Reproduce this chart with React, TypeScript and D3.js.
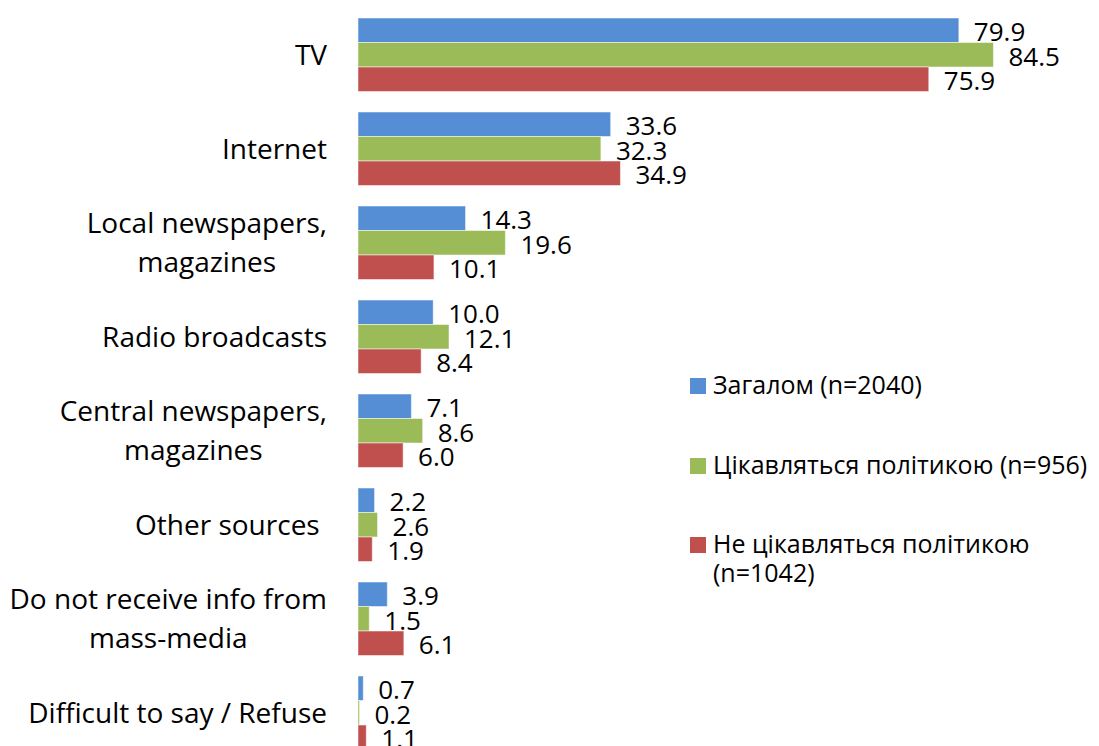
import React, { useEffect, useRef } from 'react'
import * as d3 from 'd3'

const categories = [
  'TV',
  'Internet',
  'Local newspapers,\nmagazines',
  'Radio broadcasts',
  'Central newspapers,\nmagazines',
  'Other sources ',
  'Do not receive info from\nmass-media',
  'Difficult to say / Refuse',
]
const seriesNames = ['Загалом (n=2040)', 'Цікавляться політикою (n=956)', 'Не цікавляться політикою\n(n=1042)']
const seriesColors = ['#558ED5', '#9BBB59', '#C0504D']
const overall = [79.9, 33.6, 14.3, 10.0, 7.1, 2.2, 3.9, 0.7]
const interested = [84.5, 32.3, 19.6, 12.1, 8.6, 2.6, 1.5, 0.2]
const notInterested = [75.9, 34.9, 10.1, 8.4, 6.0, 1.9, 6.1, 1.1]

const W = 1099, H = 746
const FONT = '"Open Sans", sans-serif'

function App() {
  const ref = useRef<SVGSVGElement>(null)

  useEffect(() => {
    const svg = d3.select(ref.current)
    svg.selectAll('*').remove()

    const values = [overall, interested, notInterested]

    const x = d3.scaleLinear().domain([0, 100]).range([358, 358 + 752])
    const y = d3.scaleBand<string>()
      .domain(categories)
      .range([7.75, 7.75 + 8 * 94])
      .paddingInner(0.218)
      .paddingOuter(0.109)
    const inner = d3.scaleBand<number>().domain([0, 1, 2]).range([0, y.bandwidth()])

    const groups = svg.selectAll('g.cat')
      .data(categories)
      .enter()
      .append('g')
      .attr('class', 'cat')
      .attr('transform', d => 'translate(0,' + y(d) + ')')

    groups.each(function (cat, ci) {
      const g = d3.select(this)
      values.forEach((vals, si) => {
        const v = vals[ci]
        g.append('rect')
          .attr('x', x(0))
          .attr('y', inner(si)!)
          .attr('width', x(v) - x(0))
          .attr('height', inner.bandwidth())
          .attr('fill', seriesColors[si])
          .attr('stroke', 'rgba(255,255,255,0.5)')
          .attr('stroke-width', 1)
        g.append('text')
          .attr('x', x(v) + 15)
          .attr('y', inner(si)! + inner.bandwidth() / 2 + 1.5)
          .attr('dy', '0.36em')
          .attr('font-family', FONT)
          .attr('font-size', 26)
          .attr('fill', '#000')
          .text(v.toFixed(1))
      })

      // category label: lines centred, block right-aligned at the axis
      const lines = cat.split('\n')
      const label = g.append('text')
        .attr('font-family', FONT)
        .attr('font-size', 28)
        .attr('fill', '#000')
        .attr('text-anchor', 'middle')
        .style('white-space', 'pre')
      const mid = y.bandwidth() / 2 + 10
      lines.forEach((ln, li) => {
        label.append('tspan')
          .attr('y', mid + (li - (lines.length - 1) / 2) * 39)
          .text(ln)
      })
      let maxW = 0
      label.selectAll<SVGTSpanElement, unknown>('tspan').each(function () {
        maxW = Math.max(maxW, this.getComputedTextLength())
      })
      label.selectAll('tspan').attr('x', 327 - maxW / 2)
    })

    // legend
    const legendTops = [378, 458, 537]
    seriesNames.forEach((name, si) => {
      const top = legendTops[si]
      svg.append('rect')
        .attr('x', 690)
        .attr('y', top)
        .attr('width', 16)
        .attr('height', 16)
        .attr('fill', seriesColors[si])
      const t = svg.append('text')
        .attr('font-family', FONT)
        .attr('font-size', 25)
        .attr('fill', '#000')
      name.split('\n').forEach((ln, li) => {
        t.append('tspan')
          .attr('x', 713)
          .attr('y', top + 16 + li * 29)
          .text(ln)
      })
    })
  }, [])

  return (
    <div style={{ position: 'absolute', left: 0, top: 0 }}>
      <svg ref={ref} width={W} height={H} style={{ display: 'block', background: '#fff' }} />
    </div>
  )
}

export default App
